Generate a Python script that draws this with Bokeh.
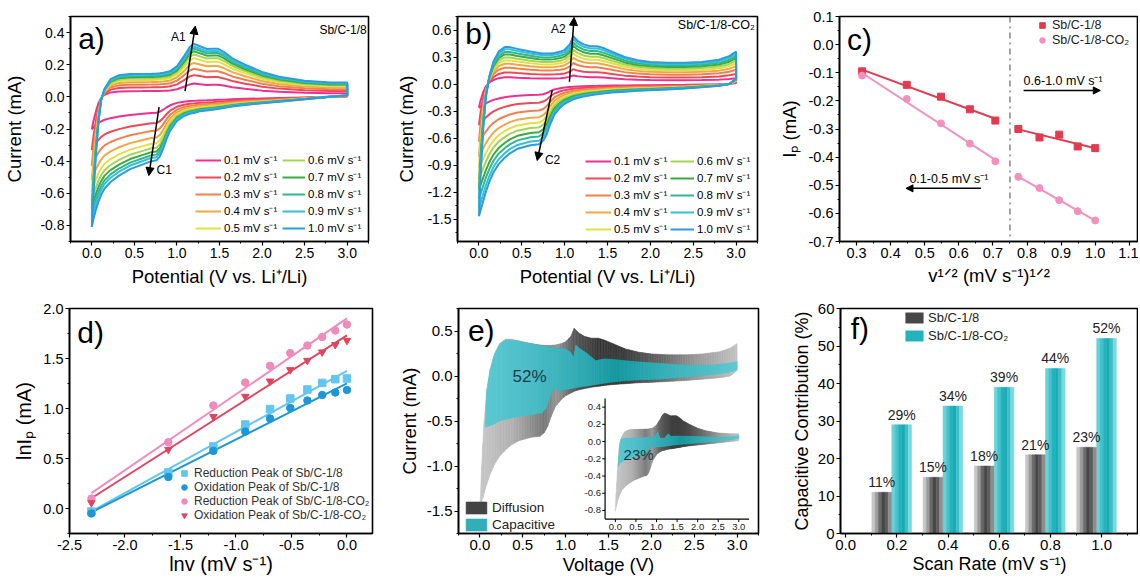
import numpy as np
from bokeh.plotting import figure
from bokeh.layouts import row, column
from bokeh.models import (Range1d, Legend, LegendItem, Arrow, NormalHead, Label, Span,
                          FixedTicker, PrintfTickFormatter)
from bokeh.core.properties import value
from bokeh.embed import file_html
from bokeh.resources import INLINE

FONT = "Liberation Sans"

# ------------------------------------------------------------------ data
scan_rates = [0.1, 0.2, 0.3, 0.4, 0.5, 0.6, 0.7, 0.8, 0.9, 1.0]
rate_labels = ["%.1f mV s⁻¹" % r for r in scan_rates]
rate_colors = ["#ee3090", "#f04858", "#f2804c", "#f0a844", "#e4e044",
               "#a6d454", "#3caa40", "#2fb88e", "#34c0d8", "#2c9ce0"]

# (a) Sb/C-1/8, CV at 1.0 mV/s (anodic / cathodic branch on a shared potential grid)
a_pot = [0.00, 0.02, 0.05, 0.08, 0.11, 0.15, 0.22, 0.32, 0.45, 0.60,
         0.70, 0.76, 0.80, 0.84, 0.88, 0.92, 1.00, 1.08, 1.15, 1.20,
         1.27, 1.35, 1.42, 1.48, 1.55, 1.65, 1.80, 2.00, 2.20, 2.50,
         2.80, 3.00]
a_anodic = [-0.81, -0.60, -0.35, -0.15, -0.02, 0.05, 0.11, 0.135, 0.142, 0.143,
            0.144, 0.145, 0.147, 0.15, 0.155, 0.16, 0.19, 0.25, 0.31, 0.33,
            0.315, 0.298, 0.30, 0.30, 0.28, 0.24, 0.20, 0.155, 0.125, 0.10,
            0.09, 0.09]
a_cathodic = [-0.81, -0.76, -0.70, -0.65, -0.61, -0.57, -0.53, -0.49, -0.45, -0.42,
              -0.40, -0.395, -0.37, -0.32, -0.26, -0.21, -0.15, -0.12, -0.105, -0.10,
              -0.09, -0.085, -0.08, -0.075, -0.07, -0.06, -0.05, -0.04, -0.03, -0.015,
              0.0, 0.01]
a_rate_scale = [0.25, 0.41, 0.53, 0.64, 0.73, 0.80, 0.86, 0.91, 0.95, 1.00]

# (b) Sb/C-1/8-CO2, CV at 1.0 mV/s
b_pot = [0.00, 0.02, 0.05, 0.08, 0.12, 0.17, 0.23, 0.30, 0.36, 0.45,
         0.60, 0.70, 0.75, 0.79, 0.83, 0.88, 0.95, 1.00, 1.06, 1.10,
         1.15, 1.22, 1.30, 1.38, 1.45, 1.55, 1.70, 1.85, 2.00, 2.20,
         2.40, 2.60, 2.80, 2.92, 3.00]
b_anodic = [-1.47, -1.00, -0.50, -0.15, 0.08, 0.25, 0.36, 0.41, 0.41, 0.39,
            0.36, 0.345, 0.34, 0.34, 0.34, 0.345, 0.36, 0.38, 0.44, 0.53,
            0.48, 0.44, 0.42, 0.42, 0.40, 0.36, 0.30, 0.265, 0.245, 0.235,
            0.235, 0.245, 0.27, 0.31, 0.36]
b_cathodic = [-1.47, -1.40, -1.30, -1.20, -1.09, -0.98, -0.89, -0.82, -0.77, -0.72,
              -0.68, -0.67, -0.63, -0.56, -0.45, -0.34, -0.26, -0.22, -0.19, -0.17,
              -0.155, -0.14, -0.125, -0.115, -0.105, -0.095, -0.085, -0.075, -0.07, -0.06,
              -0.05, -0.035, -0.02, 0.0, 0.06]
b_rate_scale = [0.18, 0.31, 0.44, 0.55, 0.64, 0.72, 0.80, 0.87, 0.94, 1.00]

# (c) peak current vs v^1/2
c_ip_sbc = [-0.095, -0.143, -0.185, -0.230, -0.270, -0.300, -0.330, -0.320, -0.362, -0.368]
c_ip_co2 = [-0.110, -0.193, -0.280, -0.352, -0.415, -0.470, -0.510, -0.553, -0.592, -0.625]

# (d) ln Ip vs ln v
d_red_sbc = [-0.03, 0.36, 0.62, 0.84, 0.995, 1.10, 1.19, 1.256, 1.293, 1.30]
d_ox_sbc = [-0.05, 0.315, 0.576, 0.77, 0.90, 1.005, 1.08, 1.135, 1.16, 1.185]
d_red_co2 = [0.10, 0.663, 1.03, 1.26, 1.427, 1.554, 1.63, 1.715, 1.78, 1.84]
d_ox_co2 = [0.057, 0.59, 0.918, 1.12, 1.273, 1.387, 1.48, 1.564, 1.638, 1.68]
d_labels = ["Reduction Peak of Sb/C-1/8", "Oxidation Peak of Sb/C-1/8",
            "Reduction Peak of Sb/C-1/8-CO₂", "Oxidation Peak of Sb/C-1/8-CO₂"]

# (e) capacitive band of Sb/C-1/8-CO2 (main) and Sb/C-1/8 (inset) at 1.0 mV/s
e_cap_pot = [0.06, 0.08, 0.12, 0.17, 0.23, 0.30, 0.45, 0.60, 0.72, 0.77,
             0.82, 0.86, 0.90, 1.00, 1.06, 1.09, 1.12, 1.17, 1.25, 1.35,
             1.45, 1.60, 1.80, 2.10, 2.40, 2.70, 2.90, 3.00]
e_cap_up = [-0.56, -0.16, 0.07, 0.24, 0.35, 0.40, 0.39, 0.355, 0.335, 0.33,
            0.32, 0.315, 0.31, 0.30, 0.26, 0.20, 0.34, 0.30, 0.25, 0.17,
            0.19, 0.18, 0.16, 0.14, 0.12, 0.12, 0.14, 0.16]
e_cap_dn = [-0.57, -0.565, -0.55, -0.53, -0.50, -0.48, -0.45, -0.43, -0.41, -0.36,
            -0.22, -0.12, -0.17, -0.15, -0.14, -0.135, -0.13, -0.12, -0.11, -0.095,
            -0.08, -0.06, -0.045, -0.035, -0.01, 0.015, 0.04, 0.07]
in_cap_pot = [0.07, 0.10, 0.14, 0.25, 0.45, 0.70, 0.80, 0.84, 0.90, 0.97,
              1.03, 1.08, 1.20, 1.28, 1.35, 1.50, 1.90, 2.40, 2.80, 3.00]
in_cap_up = [-0.28, -0.05, 0.03, 0.04, 0.042, 0.045, 0.05, 0.05, 0.055, 0.06,
             0.11, 0.04, 0.04, 0.09, 0.06, 0.065, 0.06, 0.05, 0.055, 0.07]
in_cap_dn = [-0.29, -0.26, -0.24, -0.21, -0.18, -0.15, -0.10, -0.03, -0.07, -0.065,
             -0.06, -0.06, -0.055, -0.05, -0.045, -0.035, -0.02, 0.0, 0.02, 0.04]
e_main_pct = "52%"
e_inset_pct = "23%"
inset_xticks = [0.0, 0.5, 1.0, 1.5, 2.0, 2.5, 3.0]
inset_yticks = [-0.8, -0.6, -0.4, -0.2, 0.0, 0.2, 0.4]

# (f) capacitive contribution
f_rates = [0.2, 0.4, 0.6, 0.8, 1.0]
f_sbc = [11, 15, 18, 21, 23]
f_co2 = [29, 34, 39, 44, 52]

# ------------------------------------------------------------------ styles
GRAY_STOP_X = [0.0, 0.4, 0.75, 0.9, 1.1, 1.4, 1.7, 2.1, 2.5, 3.0]
GRAY_STOP_V = [200, 175, 120, 150, 90, 55, 60, 100, 150, 195]
TEAL_LIGHT = (100, 208, 218)
TEAL_DARK = (14, 150, 158)
TEAL_STOP_X = [0.0, 0.6, 1.2, 1.6, 2.2, 3.0]
TEAL_STOP_T = [0.1, 0.3, 0.6, 0.9, 0.5, 0.1]
BAR_GRAY = ["#c6c6c6", "#9c9c9c", "#6a6a6a", "#474747", "#5c5c5c", "#8e8e8e"]
BAR_TEAL = ["#6ad2da", "#44c3cc", "#24b3bc", "#1aabb4", "#3dbfc8", "#7ad9e0"]


def hexc(rgb):
    return "#%02x%02x%02x" % tuple(int(round(v)) for v in rgb)


def gray_at(x):
    g = float(np.interp(x, GRAY_STOP_X, GRAY_STOP_V))
    return hexc((g, g, g))


def teal_at(x):
    t = float(np.interp(x, TEAL_STOP_X, TEAL_STOP_T))
    return hexc([a + (b - a) * t for a, b in zip(TEAL_LIGHT, TEAL_DARK)])


def band_strips(pot, lo, hi, shade, step=0.02):
    """Split the band between two straight-segment boundaries into thin slices
    (same outline) so that each slice can carry its own shade."""
    xs, ys, cols = [], [], []
    for i in range(len(pot) - 1):
        x0, x1 = pot[i], pot[i + 1]
        n = max(1, int(np.ceil((x1 - x0) / step - 1e-9)))
        for k in range(n):
            t0, t1 = k / n, (k + 1) / n
            xa, xb = x0 + (x1 - x0) * t0, x0 + (x1 - x0) * t1
            la, lb = lo[i] + (lo[i + 1] - lo[i]) * t0, lo[i] + (lo[i + 1] - lo[i]) * t1
            ha, hb = hi[i] + (hi[i + 1] - hi[i]) * t0, hi[i] + (hi[i + 1] - hi[i]) * t1
            xs.append([xa, xb, xb, xa])
            ys.append([la, lb, hb, ha])
            cols.append(shade(0.5 * (xa + xb)))
    return xs, ys, cols


def mkfig(w, h, xr, yr, bl, br, bt, bb, tick_fs="14px", lab_fs="18px"):
    p = figure(width=w, height=h, x_range=Range1d(*xr), y_range=Range1d(*yr),
               output_backend="svg", toolbar_location=None,
               min_border_left=bl, min_border_right=br, min_border_top=bt,
               min_border_bottom=bb)
    p.grid.visible = False
    p.outline_line_color = "black"
    p.outline_line_width = 1.6
    p.outline_line_alpha = 1.0
    p.background_fill_color = "white"
    p.border_fill_color = "white"
    for ax in (p.xaxis[0], p.yaxis[0]):
        ax.axis_line_width = 1.6
        ax.axis_line_color = "black"
        ax.major_tick_line_width = 1.2
        ax.minor_tick_line_width = 1.0
        ax.major_tick_out = 4
        ax.major_tick_in = 0
        ax.minor_tick_out = 2
        ax.minor_tick_in = 0
        ax.major_label_standoff = 2
        ax.major_label_text_font = FONT
        ax.major_label_text_font_size = tick_fs
        ax.major_label_text_color = "black"
        ax.axis_label_text_font = FONT
        ax.axis_label_text_font_size = lab_fs
        ax.axis_label_text_font_style = "normal"
        ax.axis_label_text_color = "black"
    return p


def ticks(p, xt, xm, yt, ym, xfmt="%.1f", yfmt="%.1f"):
    p.xaxis.ticker = FixedTicker(ticks=xt, minor_ticks=xm)
    p.yaxis.ticker = FixedTicker(ticks=yt, minor_ticks=ym)
    p.xaxis.formatter = PrintfTickFormatter(format=xfmt)
    p.yaxis.formatter = PrintfTickFormatter(format=yfmt)


def letter(p, x, y, t):
    p.add_layout(Label(x=x, y=y, text=t, text_font=FONT, text_font_size="30px",
                       text_baseline="top", text_color="black"))


def arrow(p, x0, y0, x1, y1, size=8):
    p.add_layout(Arrow(end=NormalHead(size=size, fill_color="black", line_color="black"),
                       x_start=x0, y_start=y0, x_end=x1, y_end=y1,
                       line_color="black", line_width=1.5))


def txt(p, x, y, t, fs="11px", align="left", base="middle", color="black", **kw):
    p.add_layout(Label(x=x, y=y, text=t, text_font=FONT, text_font_size=fs,
                       text_align=align, text_baseline=base, text_color=color, **kw))


def legend(p, items, loc, gw=28, gh=14, spacing=2, fs="11.5px", color="black", lh=14):
    p.add_layout(Legend(items=items, location=loc, orientation="vertical",
                        padding=0, margin=0, spacing=spacing, glyph_width=gw,
                        glyph_height=gh, label_standoff=3, label_height=lh,
                        label_text_font=FONT, label_text_font_size=fs,
                        label_text_color=color, border_line_alpha=0,
                        background_fill_alpha=0))


def cv_curves(p, pot, up, dn, scales):
    rends = []
    for s, col in zip(scales, rate_colors):
        xs = list(pot) + list(pot[::-1])
        ys = [s * v for v in up] + [s * v for v in dn[::-1]]
        rends.append(p.line(xs, ys, line_color=col, line_width=2.0))
    return rends


ROW1_H, ROW2_H = 290, 288
cv_xt = [0.0, 0.5, 1.0, 1.5, 2.0, 2.5, 3.0]
cv_xm = [-0.25, 0.25, 0.75, 1.25, 1.75, 2.25, 2.75, 3.25]

# ------------------------------------------------------------------ (a)
pa = mkfig(385, ROW1_H, (-0.25, 3.25), (-0.9, 0.5), 70, 17, 15, 49, lab_fs="18.5px")
ticks(pa, cv_xt, cv_xm, [-0.8, -0.6, -0.4, -0.2, 0.0, 0.2, 0.4],
      [-0.9, -0.7, -0.5, -0.3, -0.1, 0.1, 0.3, 0.5])
pa.xaxis.axis_label = "Potential (V vs. Li⁺/Li)"
pa.yaxis.axis_label = "Current (mA)"
pa.yaxis.axis_label_standoff = 12
pa.xaxis.axis_label_standoff = 5
ra = cv_curves(pa, a_pot, a_anodic, a_cathodic, a_rate_scale)
legend(pa, [LegendItem(label=rate_labels[i], renderers=[ra[i]]) for i in range(5)], (125, 6), gw=26)
legend(pa, [LegendItem(label=rate_labels[i], renderers=[ra[i]]) for i in range(5, 10)], (212, 6), gw=23)
arrow(pa, 1.095, 0.035, 1.215, 0.44)
arrow(pa, 0.79, -0.064, 0.67, -0.49)
txt(pa, 0.93, 0.373, "A1", fs="12px")
txt(pa, 0.76, -0.452, "C1", fs="12px")
txt(pa, 3.23, 0.46, "Sb/C-1/8", fs="12px", align="right", base="top")
letter(pa, -0.16, 0.465, "a)")

# ------------------------------------------------------------------ (b)
pb = mkfig(380, ROW1_H, (-0.25, 3.25), (-1.75, 0.75), 72, 8, 15, 49, lab_fs="18.5px")
ticks(pb, cv_xt, cv_xm, [-1.5, -1.2, -0.9, -0.6, -0.3, 0.0, 0.3, 0.6],
      [-1.65, -1.35, -1.05, -0.75, -0.45, -0.15, 0.15, 0.45, 0.75])
pb.xaxis.axis_label = "Potential (V vs. Li⁺/Li)"
pb.yaxis.axis_label = "Current (mA)"
pb.yaxis.axis_label_standoff = 7
pb.xaxis.axis_label_standoff = 5
rb = cv_curves(pb, b_pot, b_anodic, b_cathodic, b_rate_scale)
legend(pb, [LegendItem(label=rate_labels[i], renderers=[rb[i]]) for i in range(5)], (128, 5), gw=26)
legend(pb, [LegendItem(label=rate_labels[i], renderers=[rb[i]]) for i in range(5, 10)], (213, 5), gw=24)
arrow(pb, 1.056, 0.025, 1.11, 0.74)
arrow(pb, 0.855, -0.068, 0.68, -0.85)
txt(pb, 0.84, 0.61, "A2", fs="12px")
txt(pb, 0.77, -0.84, "C2", fs="12px")
txt(pb, 3.22, 0.735, "Sb/C-1/8-CO₂", fs="12.5px", align="right", base="top")
letter(pb, -0.16, 0.74, "b)")

# ------------------------------------------------------------------ (c)
sq = np.sqrt(scan_rates)
pc = mkfig(373, ROW1_H, (0.25, 1.127), (-0.7, 0.1), 74, 0, 16, 49, tick_fs="14.5px", lab_fs="18.5px")
ticks(pc, [0.3, 0.4, 0.5, 0.6, 0.7, 0.8, 0.9, 1.0, 1.1],
      [0.25, 0.35, 0.45, 0.55, 0.65, 0.75, 0.85, 0.95, 1.05],
      [-0.7, -0.6, -0.5, -0.4, -0.3, -0.2, -0.1, 0.0, 0.1],
      [-0.65, -0.55, -0.45, -0.35, -0.25, -0.15, -0.05, 0.05])
pc.xaxis.axis_label = "v¹ᐟ² (mV s⁻¹)¹ᐟ²"
pc.yaxis.axis_label = "Iₚ (mA)"
pc.yaxis.axis_label_standoff = 6
pc.xaxis.axis_label_standoff = 4
pc.add_layout(Span(location=0.75, dimension="height", line_color="#666666",
                   line_dash="dashdot", line_width=1.2))
C_RED, C_PINK = "#e23b50", "#f291bf"
for seg in (slice(0, 5), slice(5, 10)):
    xs_ = sq[seg]
    for ys_, col in ((np.array(c_ip_sbc)[seg], C_RED), (np.array(c_ip_co2)[seg], C_PINK)):
        k, b0 = np.polyfit(xs_, ys_, 1)
        pc.line([xs_[0], xs_[-1]], [k * xs_[0] + b0, k * xs_[-1] + b0], line_color=col, line_width=2)
r_c1 = pc.scatter(sq, c_ip_sbc, marker="square", size=7, fill_color=C_RED, line_color=C_RED)
r_c2 = pc.scatter(sq, c_ip_co2, marker="circle", size=7, fill_color=C_PINK, line_color=C_PINK)
legend(pc, [LegendItem(label="Sb/C-1/8", renderers=[r_c1]),
            LegendItem(label="Sb/C-1/8-CO₂", renderers=[r_c2])], (196, 194),
       gw=14, gh=14, spacing=1, fs="12.5px", color="#222222")
txt(pc, 0.79, -0.128, "0.6-1.0 mV s⁻¹", fs="12.5px")
arrow(pc, 0.79, -0.163, 1.015, -0.163, size=7)
txt(pc, 0.455, -0.476, "0.1-0.5 mV s⁻¹", fs="12.5px")
arrow(pc, 0.665, -0.511, 0.445, -0.511, size=7)
letter(pc, 0.272, 0.078, "c)")

# ------------------------------------------------------------------ (d)
lnv = np.log(scan_rates)
pd_ = mkfig(395, ROW2_H, (-2.5, 0.23), (-0.25, 2.0), 69, 23, 18, 45, tick_fs="14.5px", lab_fs="20px")
ticks(pd_, [-2.5, -2.0, -1.5, -1.0, -0.5, 0.0], [-2.25, -1.75, -1.25, -0.75, -0.25, 0.25],
      [0.0, 0.5, 1.0, 1.5, 2.0], [-0.25, 0.25, 0.75, 1.25, 1.75])
pd_.xaxis.axis_label = "lnv (mV s⁻¹)"
pd_.yaxis.axis_label = "lnIₚ (mA)"
pd_.yaxis.axis_label_standoff = 5
pd_.xaxis.axis_label_standoff = 0
d_cols = ["#62c6ee", "#1b98d5", "#f08cbc", "#e04560"]
d_markers = ["square", "circle", "circle", "inverted_triangle"]
d_series = [d_red_sbc, d_ox_sbc, d_red_co2, d_ox_co2]
d_items = []
for ys_, col in zip(d_series, d_cols):
    k, b0 = np.polyfit(lnv, ys_, 1)
    pd_.line([lnv[0], lnv[-1]], [k * lnv[0] + b0, k * lnv[-1] + b0], line_color=col, line_width=2)
for ys_, col, mk, lab in zip(d_series, d_cols, d_markers, d_labels):
    r = pd_.scatter(lnv, ys_, marker=mk, size=7.5, fill_color=col, line_color=col)
    d_items.append(LegendItem(label=lab, renderers=[r]))
legend(pd_, d_items, (108, 11), gw=14, gh=14, spacing=0, fs="12px", color="#333333")
letter(pd_, -2.43, 1.93, "d)")

# ------------------------------------------------------------------ (e)
pe = mkfig(375, ROW2_H, (-0.25, 3.25), (-1.75, 0.75), 60, 12, 18, 45, tick_fs="15px", lab_fs="18.5px")
ticks(pe, cv_xt, cv_xm, [-1.5, -1.0, -0.5, 0.0, 0.5], [-1.75, -1.25, -0.75, -0.25, 0.25, 0.75])
pe.xaxis.axis_label = "Voltage (V)"
pe.yaxis.axis_label = "Current (mA)"
pe.yaxis.axis_label_standoff = 4
pe.xaxis.axis_label_standoff = 1

# inset placement: inset box (inset units) -> main data box
INSET_XLIM, INSET_YLIM = (-0.25, 3.25), (-0.9, 0.5)
INSET_MAIN_X, INSET_MAIN_Y = (1.46, 3.14), (-1.59, -0.25)
sx = (INSET_MAIN_X[1] - INSET_MAIN_X[0]) / (INSET_XLIM[1] - INSET_XLIM[0])
sy = (INSET_MAIN_Y[1] - INSET_MAIN_Y[0]) / (INSET_YLIM[1] - INSET_YLIM[0])
pe.extra_x_ranges = {"inset": Range1d(INSET_XLIM[0] + (-0.25 - INSET_MAIN_X[0]) / sx,
                                      INSET_XLIM[0] + (3.25 - INSET_MAIN_X[0]) / sx)}
pe.extra_y_ranges = {"inset": Range1d(INSET_YLIM[0] + (-1.75 - INSET_MAIN_Y[0]) / sy,
                                      INSET_YLIM[0] + (0.75 - INSET_MAIN_Y[0]) / sy)}
IR = dict(x_range_name="inset", y_range_name="inset")

xs_, ys_, cs_ = band_strips(b_pot, b_cathodic, b_anodic, gray_at)
r_diff = pe.patches(xs_, ys_, fill_color=cs_, line_color=cs_, line_width=0.6)
xs_, ys_, cs_ = band_strips(e_cap_pot, e_cap_dn, e_cap_up, teal_at)
r_cap = pe.patches(xs_, ys_, fill_color=cs_, line_color=cs_, line_width=0.6)
txt(pe, 0.38, 0.0, e_main_pct, fs="17px", color="#173c46")

xs_, ys_, cs_ = band_strips(a_pot, a_cathodic, a_anodic, gray_at)
pe.patches(xs_, ys_, fill_color=cs_, line_color=cs_, line_width=0.5, **IR)
xs_, ys_, cs_ = band_strips(in_cap_pot, in_cap_dn, in_cap_up, teal_at)
pe.patches(xs_, ys_, fill_color=cs_, line_color=cs_, line_width=0.5, **IR)
txt(pe, 0.2, -0.15, e_inset_pct, fs="15px", color="#173c46", x_range_name="inset", y_range_name="inset")
# inset axes
pe.line([INSET_XLIM[0], INSET_XLIM[1]], [INSET_YLIM[0], INSET_YLIM[0]], line_color="black", line_width=1.2, **IR)
pe.line([INSET_XLIM[0], INSET_XLIM[0]], [INSET_YLIM[0], INSET_YLIM[1]], line_color="black", line_width=1.2, **IR)
TLX, TLY = 0.07, 0.035
pe.segment(x0=inset_xticks, y0=[INSET_YLIM[0]] * 7, x1=inset_xticks, y1=[INSET_YLIM[0] - TLY] * 7,
           line_color="black", line_width=1, **IR)
pe.segment(x0=[INSET_XLIM[0]] * 7, y0=inset_yticks, x1=[INSET_XLIM[0] - TLX] * 7, y1=inset_yticks,
           line_color="black", line_width=1, **IR)
pe.text(x=inset_xticks, y=[INSET_YLIM[0] - 0.06] * 7, text=["%.1f" % v for v in inset_xticks],
        text_font=value(FONT), text_font_size="9.5px", text_align="center", text_baseline="top",
        text_color="#222222", **IR)
pe.text(x=[INSET_XLIM[0] - 0.1] * 7, y=inset_yticks, text=["%.1f" % v for v in inset_yticks],
        text_font=value(FONT), text_font_size="9.5px", text_align="right", text_baseline="middle",
        text_color="#222222", **IR)
legend(pe, [LegendItem(label="Diffusion", renderers=[r_diff], index=70),
            LegendItem(label="Capacitive", renderers=[r_cap], index=60)], (5, 1),
       gw=26, gh=15, spacing=2, fs="13.5px", color="#222222", lh=15)
letter(pe, -0.14, 0.69, "e)")

# ------------------------------------------------------------------ (f)
pf = mkfig(368, ROW2_H, (-0.02, 1.144), (0, 60), 70, 0, 18, 45, tick_fs="15px", lab_fs="18px")
ticks(pf, [0.0, 0.2, 0.4, 0.6, 0.8, 1.0], [0.1, 0.3, 0.5, 0.7, 0.9, 1.1],
      [0, 10, 20, 30, 40, 50, 60], [5, 15, 25, 35, 45, 55], yfmt="%d")
pf.xaxis.axis_label = "Scan Rate (mV s⁻¹)"
pf.yaxis.axis_label = "Capacitive Contribution (%)"
pf.yaxis.axis_label_standoff = 3
pf.xaxis.axis_label_standoff = 1
BW = 0.077
n = len(BAR_GRAY)
g_rends, t_rends = [], []
for j in range(n):
    off = -BW / 2 + (j + 0.5) * BW / n
    g_rends.append(pf.vbar(x=[r - 0.059 + off for r in f_rates], top=f_sbc, bottom=0,
                           width=BW / n, fill_color=BAR_GRAY[j], line_color=BAR_GRAY[j], line_width=0.5))
    t_rends.append(pf.vbar(x=[r + 0.019 + off for r in f_rates], top=f_co2, bottom=0,
                           width=BW / n, fill_color=BAR_TEAL[j], line_color=BAR_TEAL[j], line_width=0.5))
pf.text(x=[r - 0.059 for r in f_rates], y=[v + 0.6 for v in f_sbc], text=["%d%%" % v for v in f_sbc],
        text_font=value(FONT), text_font_size="14px", text_align="center", text_baseline="bottom",
        text_color="#222222")
pf.text(x=[r + 0.019 for r in f_rates], y=[v + 0.6 for v in f_co2], text=["%d%%" % v for v in f_co2],
        text_font=value(FONT), text_font_size="14px", text_align="center", text_baseline="bottom",
        text_color="#222222")
legend(pf, [LegendItem(label="Sb/C-1/8", renderers=[g_rends[3]]),
            LegendItem(label="Sb/C-1/8-CO₂", renderers=[t_rends[2]])], (63, 190),
       gw=22, gh=13, spacing=3, fs="13px", color="#222222", lh=13)
letter(pf, 0.02, 59.0, "f)")

layout = column(row(pa, pb, pc), row(pd_, pe, pf))
open("out.html", "w").write(file_html(layout, INLINE, title="CV analysis"))
